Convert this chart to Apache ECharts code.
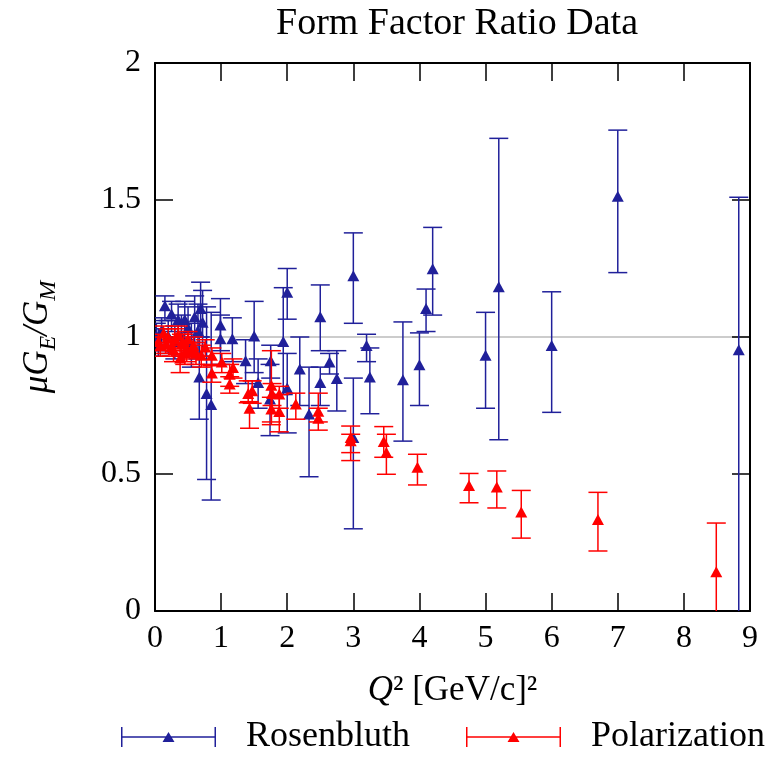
<!DOCTYPE html>
<html>
<head>
    <meta charset="UTF-8">
    <title>Form Factor Ratio Data</title>
    <script src="https://cdn.jsdelivr.net/npm/echarts@6/dist/echarts.min.js"></script>
    <style>
        html, body { margin: 0; padding: 0; background: #fff; }
        #chart { width: 780px; height: 759px; }
    </style>
</head>
<body>
<div id="chart"></div>
<script type="text/javascript">
    // Rosenbluth data: Q^2, ratio, lower end of error bar, upper end
    var rosQ2    = [0.02, 0.05, 0.10, 0.15, 0.20, 0.25, 0.30, 0.35, 0.40, 0.45, 0.50, 0.55, 0.60, 0.65, 0.67, 0.69, 0.72, 0.78, 0.85, 0.99, 0.99, 1.17, 1.37, 1.50, 1.56, 1.74, 1.75, 1.94, 2.00, 2.00, 2.19, 2.33, 2.50, 2.50, 2.64, 2.75, 3.00, 3.00, 3.20, 3.25, 3.75, 4.00, 4.10, 4.20, 5.00, 5.20, 6.00, 7.00, 8.83];
    var rosRatio = [1.00, 0.98, 1.02, 1.11, 1.00, 1.08, 0.98, 1.06, 1.00, 1.06, 1.03, 0.97, 1.07, 1.02, 0.85, 1.10, 1.05, 0.79, 0.75, 1.04, 0.99, 0.99, 0.91, 1.00, 0.83, 0.77, 0.91, 0.98, 1.16, 0.81, 0.88, 0.715, 1.07, 0.83, 0.905, 0.845, 1.22, 0.63, 0.965, 0.85, 0.84, 0.895, 1.10, 1.245, 0.93, 1.18, 0.965, 1.51, 0.95];
    var rosLow   = [0.95, 0.93, 0.97, 1.06, 0.94, 1.02, 0.92, 0.98, 0.93, 0.99, 0.95, 0.89, 0.98, 0.92, 0.70, 1.00, 0.93, 0.48, 0.405, 0.95, 0.90, 0.91, 0.83, 0.87, 0.74, 0.64, 0.85, 0.79, 1.065, 0.65, 0.75, 0.49, 0.95, 0.75, 0.865, 0.73, 1.05, 0.30, 0.91, 0.72, 0.62, 0.75, 1.02, 1.08, 0.74, 0.625, 0.725, 1.235, -0.10];
    var rosHigh  = [1.05, 1.03, 1.07, 1.15, 1.06, 1.13, 1.04, 1.12, 1.08, 1.13, 1.11, 1.05, 1.15, 1.12, 1.00, 1.20, 1.17, 1.11, 1.09, 1.14, 1.08, 1.07, 0.99, 1.13, 0.92, 0.90, 0.97, 1.18, 1.25, 0.94, 1.00, 0.89, 1.19, 0.89, 0.94, 0.95, 1.38, 0.85, 1.01, 0.96, 1.055, 1.015, 1.175, 1.40, 1.09, 1.725, 1.165, 1.755, 1.51];

    // Polarization data: Q^2, ratio, lower end of error bar, upper end
    var polQ2    = [0.05, 0.08, 0.13, 0.16, 0.20, 0.25, 0.28, 0.30, 0.35, 0.38, 0.40, 0.43, 0.45, 0.48, 0.50, 0.55, 0.58, 0.62, 0.70, 0.76, 0.86, 0.86, 1.01, 1.13, 1.13, 1.18, 1.41, 1.43, 1.47, 1.76, 1.77, 1.76, 1.88, 1.88, 2.13, 2.47, 2.47, 2.96, 2.96, 3.46, 3.50, 3.97, 4.75, 5.17, 5.54, 6.70, 8.49];
    var polRatio = [0.98, 0.965, 1.01, 0.97, 0.995, 0.96, 0.95, 0.99, 1.005, 0.92, 0.97, 0.975, 0.94, 0.945, 0.99, 0.95, 0.965, 0.94, 0.93, 0.96, 0.93, 0.865, 0.905, 0.86, 0.825, 0.885, 0.79, 0.736, 0.80, 0.82, 0.79, 0.734, 0.788, 0.724, 0.752, 0.725, 0.70, 0.63, 0.618, 0.615, 0.575, 0.521, 0.454, 0.449, 0.358, 0.33, 0.14];
    var polLow   = [0.95, 0.93, 0.98, 0.94, 0.96, 0.93, 0.91, 0.95, 0.97, 0.87, 0.93, 0.94, 0.90, 0.91, 0.96, 0.92, 0.93, 0.90, 0.89, 0.93, 0.90, 0.835, 0.87, 0.82, 0.795, 0.85, 0.76, 0.667, 0.758, 0.69, 0.75, 0.68, 0.74, 0.654, 0.70, 0.69, 0.66, 0.578, 0.549, 0.561, 0.499, 0.46, 0.395, 0.376, 0.266, 0.219, -0.04];
    var polHigh  = [1.01, 1.00, 1.04, 1.00, 1.03, 0.99, 0.99, 1.03, 1.04, 0.97, 1.01, 1.01, 0.98, 0.98, 1.02, 0.98, 1.00, 0.98, 0.97, 0.99, 0.96, 0.895, 0.94, 0.90, 0.855, 0.92, 0.84, 0.764, 0.84, 0.95, 0.83, 0.78, 0.82, 0.79, 0.795, 0.795, 0.74, 0.675, 0.645, 0.673, 0.645, 0.572, 0.502, 0.511, 0.44, 0.433, 0.321];

    var xTicks = [0, 9, 1];      // min, max, interval
    var yTicks = [0, 2, 0.5];
    var unityLine = 1;

    var blue = '#20209a';
    var red = '#ff0000';
    var font = 'Liberation Serif';

    // legend glyph: error bar with caps and a small triangle
    var barIcon = 'path://M0,0L1.5,0L1.5,20L0,20Z M0,9.25L95,9.25L95,10.75L0,10.75Z M93.5,0L95,0L95,20L93.5,20Z M41.5,15L47.5,5L53.5,15Z';

    function pack(q, r, lo, hi) {
        return q.map(function (v, i) { return [v, r[i], lo[i], hi[i]]; });
    }

    function errorBar(color) {
        return function (params, api) {
            var cs = params.coordSys;
            var top = cs.y, bottom = cs.y + cs.height;
            var x = api.value(0);
            var p = api.coord([x, api.value(1)]);
            var lo = api.coord([x, api.value(2)]);
            var hi = api.coord([x, api.value(3)]);
            var y1 = Math.max(top, Math.min(bottom, hi[1]));
            var y2 = Math.max(top, Math.min(bottom, lo[1]));
            var stroke = { stroke: color, lineWidth: 1.5 };
            var cap = 9.5;
            var children = [{
                type: 'line',
                shape: { x1: p[0], y1: y1, x2: p[0], y2: y2 },
                style: stroke
            }];
            if (hi[1] >= top) {
                children.push({ type: 'line', shape: { x1: p[0] - cap, y1: hi[1], x2: p[0] + cap, y2: hi[1] }, style: stroke });
            }
            if (lo[1] <= bottom) {
                children.push({ type: 'line', shape: { x1: p[0] - cap, y1: lo[1], x2: p[0] + cap, y2: lo[1] }, style: stroke });
            }
            children.push({
                type: 'polygon',
                shape: { points: [[p[0] - 6, p[1] + 4.5], [p[0], p[1] - 6.5], [p[0] + 6, p[1] + 4.5]] },
                style: { fill: color }
            });
            return { type: 'group', children: children };
        };
    }

    function valueAxis(pos, ticks, showLabel) {
        return {
            type: 'value',
            position: pos,
            min: ticks[0],
            max: ticks[1],
            interval: ticks[2],
            axisLine: { show: true, onZero: false, lineStyle: { color: '#000', width: 2 } },
            axisTick: { show: true, inside: true, length: 18, lineStyle: { color: '#000', width: 1.5 } },
            axisLabel: { show: showLabel, color: '#000', fontFamily: font, fontSize: 32, margin: 14 },
            splitLine: { show: false }
        };
    }

    var chart = echarts.init(document.getElementById('chart'));

    var xMain = valueAxis('bottom', xTicks, true);
    xMain.name = '{it|Q}{n|² [GeV/c]²}';
    xMain.nameLocation = 'middle';
    xMain.nameGap = 62;
    xMain.nameTextStyle = {
        color: '#000',
        rich: {
            it: { fontFamily: font, fontStyle: 'italic', fontSize: 35, color: '#000' },
            n: { fontFamily: font, fontSize: 35, color: '#000' }
        }
    };
    xMain.axisLabel.margin = 12;

    var yMain = valueAxis('left', yTicks, true);
    yMain.name = '{it|μG}{sub|E}{it|/G}{sub|M}';
    yMain.nameLocation = 'middle';
    yMain.nameRotate = 90;
    yMain.nameGap = 100;
    yMain.nameTextStyle = {
        color: '#000',
        rich: {
            it: { fontFamily: font, fontStyle: 'italic', fontSize: 35, lineHeight: 35, verticalAlign: 'top', color: '#000' },
            sub: { fontFamily: font, fontStyle: 'italic', fontSize: 24, lineHeight: 24, verticalAlign: 'top', padding: [17, 0, 0, 0], color: '#000' }
        }
    };

    var option = {
        animation: false,
        backgroundColor: '#fff',
        title: {
            text: 'Form Factor Ratio Data',
            left: 452,
            top: 0,
            textAlign: 'center',
            textStyle: { fontFamily: font, fontWeight: 'normal', fontSize: 38, color: '#000' }
        },
        legend: {
            left: 121,
            top: 719,
            width: 655,
            padding: 0,
            itemWidth: 95,
            itemHeight: 20,
            itemGap: 56,
            textStyle: { fontFamily: font, fontSize: 36, lineHeight: 36, color: '#000', padding: [0, 0, 0, 25] },
            data: [
                { name: 'Rosenbluth', icon: barIcon },
                { name: 'Polarization', icon: barIcon }
            ]
        },
        grid: { left: 155, right: 30, top: 63, bottom: 148, containLabel: false },
        xAxis: [xMain, valueAxis('top', xTicks, false)],
        yAxis: [yMain, valueAxis('right', yTicks, false)],
        series: [
            {
                name: 'Rosenbluth',
                type: 'custom',
                clip: true,
                xAxisIndex: 0,
                yAxisIndex: 0,
                itemStyle: { color: blue },
                renderItem: errorBar(blue),
                encode: { x: 0, y: 1 },
                data: pack(rosQ2, rosRatio, rosLow, rosHigh),
                markLine: {
                    silent: true,
                    symbol: 'none',
                    z: 0,
                    label: { show: false },
                    lineStyle: { color: '#bbbbbb', type: 'solid', width: 1.5 },
                    data: [{ yAxis: unityLine }]
                }
            },
            {
                name: 'Polarization',
                type: 'custom',
                clip: true,
                xAxisIndex: 0,
                yAxisIndex: 0,
                itemStyle: { color: red },
                renderItem: errorBar(red),
                encode: { x: 0, y: 1 },
                data: pack(polQ2, polRatio, polLow, polHigh)
            }
        ]
    };

    chart.setOption(option);
</script>
</body>
</html>
